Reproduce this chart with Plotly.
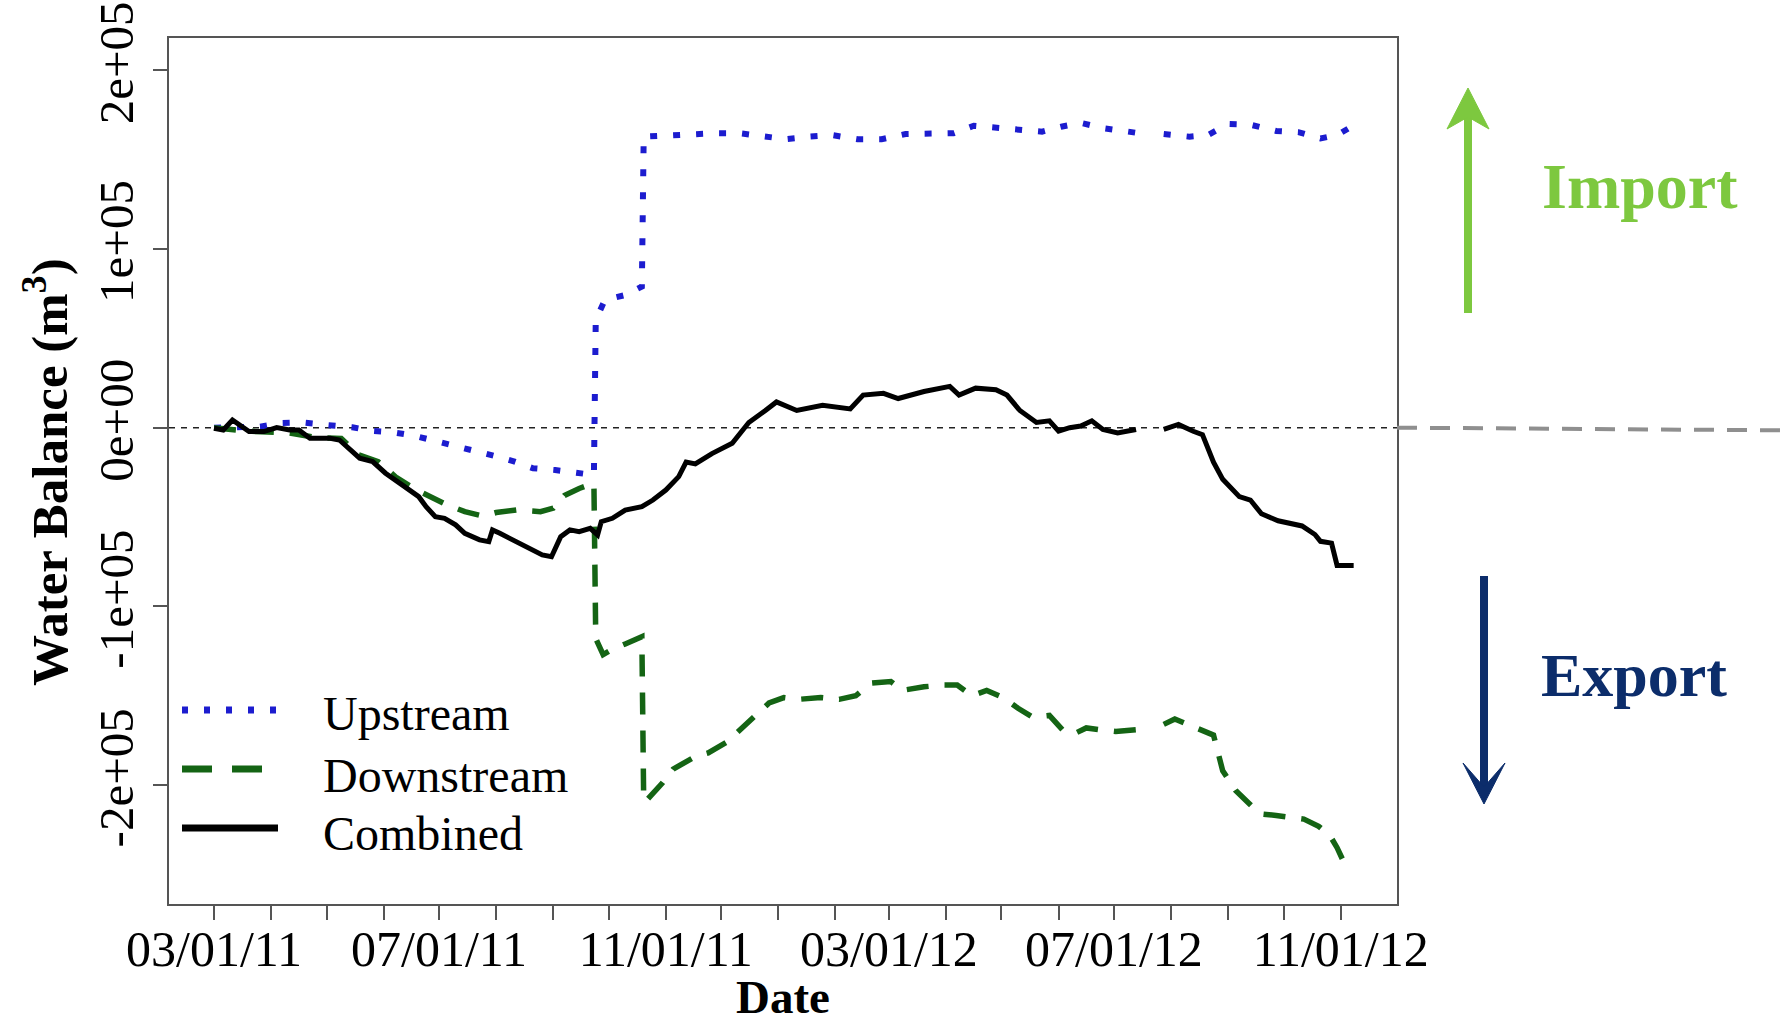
import plotly.graph_objects as go

# ---- data: cumulative water balance (m^3) ----
upstream_dates = [
    "2011-03-01", "2011-03-26", "2011-04-06", "2011-04-18", "2011-05-01", "2011-05-15",
    "2011-05-25", "2011-06-06", "2011-06-18", "2011-06-29", "2011-07-09", "2011-07-20",
    "2011-07-31", "2011-08-11", "2011-08-21", "2011-09-02", "2011-09-13", "2011-09-23",
    "2011-09-24", "2011-09-29", "2011-10-10", "2011-10-19", "2011-10-20", "2011-11-05",
    "2011-11-18", "2011-11-28", "2011-12-11", "2011-12-24", "2012-01-05", "2012-01-18",
    "2012-01-30", "2012-02-13", "2012-02-26", "2012-03-10", "2012-03-23", "2012-04-05",
    "2012-04-16", "2012-04-29", "2012-05-11", "2012-05-23", "2012-06-03", "2012-06-13",
    "2012-06-25", "2012-07-08", "2012-07-13", "2012-07-20", "2012-07-28", "2012-08-11",
    "2012-08-21", "2012-09-01", "2012-09-13", "2012-09-27", "2012-10-09", "2012-10-21",
    "2012-10-30", "2012-11-07",
]
upstream_values = [
    0, 560, 2600, 2900, 1500, 200,
    -1700, -2600, -4600, -7400, -10000, -12500,
    -15800, -19000, -22700, -23700, -25500, -26500,
    60300, 71500, 74200, 78900, 162800, 163700,
    163700, 164700, 164700, 162800, 161400, 162800,
    163700, 161400, 161400, 164300, 164700, 164700,
    168900, 167600, 166600, 165600, 168500, 170500,
    167600, 165300, 165000, None, 164300, 162800,
    163700, 169900, 169500, 166000, 165300, 161800,
    163700, 168500,
]

downstream_dates = [
    "2011-03-01", "2011-03-20", "2011-04-11", "2011-04-26", "2011-05-09", "2011-05-18",
    "2011-05-29", "2011-06-08", "2011-06-19", "2011-07-05", "2011-07-15", "2011-07-25",
    "2011-08-01", "2011-08-12", "2011-08-25", "2011-09-01", "2011-09-07", "2011-09-15",
    "2011-09-23", "2011-09-24", "2011-09-28", "2011-10-03", "2011-10-10", "2011-10-19",
    "2011-10-20", "2011-10-22", "2011-10-30", "2011-11-05", "2011-11-17", "2011-11-24",
    "2011-12-04", "2011-12-12", "2011-12-20", "2011-12-27", "2012-01-04", "2012-01-12",
    "2012-01-24", "2012-02-03", "2012-02-12", "2012-02-20", "2012-03-02", "2012-03-08",
    "2012-03-20", "2012-03-30", "2012-04-07", "2012-04-15", "2012-04-23", "2012-05-02",
    "2012-05-10", "2012-05-18", "2012-05-27", "2012-06-04", "2012-06-10", "2012-06-16",
    "2012-06-23", "2012-07-02", "2012-07-13", "2012-07-20", "2012-07-28", "2012-08-03",
    "2012-08-10", "2012-08-18", "2012-08-24", "2012-08-29", "2012-09-05", "2012-09-12",
    "2012-09-18", "2012-09-27", "2012-10-04", "2012-10-12", "2012-10-20", "2012-10-26",
    "2012-10-30", "2012-11-04", "2012-11-07",
]
downstream_values = [
    0, -2000, -3000, -5700, -6000, -15000,
    -19000, -28000, -35000, -43000, -47000, -49500,
    -47500, -46000, -47000, -45000, -38000, -34000,
    -31000, -118000, -127000, -124000, -121000, -117000,
    -209000, -208000, -199000, -191000, -184000, -182000,
    -176000, -168000, -161000, -154000, -151000, -152000,
    -151000, -152000, -150000, -143000, -142000, -147000,
    -145000, -144000, -144000, -150000, -147000, -151000,
    -157000, -162000, -161000, -170000, -171000, -168000,
    -169000, -170000, -169000, None, -166000, -163000,
    -166000, -169000, -172000, -192000, -203000, -210000,
    -216000, -217000, -218000, -219000, -223000, -228000,
    -235000, -246000, -247000,
]

combined_dates = [
    "2011-03-01", "2011-03-06", "2011-03-11", "2011-03-15", "2011-03-20", "2011-03-28",
    "2011-04-04", "2011-04-11", "2011-04-16", "2011-04-22", "2011-05-03", "2011-05-08",
    "2011-05-14", "2011-05-19", "2011-05-26", "2011-06-02", "2011-06-11", "2011-06-20",
    "2011-06-24", "2011-06-29", "2011-07-04", "2011-07-10", "2011-07-15", "2011-07-23",
    "2011-07-28", "2011-07-30", "2011-08-03", "2011-08-10", "2011-08-17", "2011-08-26",
    "2011-08-31", "2011-09-05", "2011-09-10", "2011-09-15", "2011-09-21", "2011-09-25",
    "2011-09-27", "2011-10-03", "2011-10-10", "2011-10-19", "2011-10-25", "2011-11-01",
    "2011-11-08", "2011-11-12", "2011-11-17", "2011-11-26", "2011-12-07", "2011-12-16",
    "2011-12-25", "2011-12-31", "2012-01-11", "2012-01-25", "2012-02-09", "2012-02-16",
    "2012-02-27", "2012-03-06", "2012-03-20", "2012-04-03", "2012-04-08", "2012-04-17",
    "2012-04-28", "2012-05-04", "2012-05-11", "2012-05-20", "2012-05-27", "2012-06-01",
    "2012-06-07", "2012-06-13", "2012-06-19", "2012-06-25", "2012-07-03", "2012-07-13",
    "2012-07-20", "2012-07-28", "2012-08-05", "2012-08-13", "2012-08-18", "2012-08-24",
    "2012-08-29", "2012-09-07", "2012-09-13", "2012-09-19", "2012-09-28", "2012-10-11",
    "2012-10-18", "2012-10-21", "2012-10-27", "2012-10-30", "2012-11-08",
]
combined_values = [
    -300, -1300, 4300, 1500, -2200, -2200,
    0, -1300, -1300, -5900, -5900, -6900,
    -12500, -17100, -19000, -25500, -32000, -38600,
    -44200, -49800, -50700, -54400, -59100, -62800,
    -63800, -57200, -59100, -62800, -66600, -71200,
    -72200, -61000, -57200, -58200, -56300, -60000,
    -52600, -50700, -46100, -44200, -40500, -34900,
    -27400, -19300, -20300, -14500, -8700, 2900,
    9600, 14400, 9600, 12500, 10500, 18200,
    19200, 16300, 20200, 23100, 18200, 22100,
    21200, 18200, 9600, 2900, 3800, -2000,
    0, 900, 3800, -1000, -3000, -1000,
    None, -1000, 1800, -2000, -3900, -19300,
    -28900, -38600, -40500, -48200, -52100, -55000,
    -59800, -63600, -64600, -77100, -77100,
]

tick_dates = [
    "2011-03-01", "2011-04-01", "2011-05-01", "2011-06-01", "2011-07-01", "2011-08-01",
    "2011-09-01", "2011-10-01", "2011-11-01", "2011-12-01", "2012-01-01", "2012-02-01",
    "2012-03-01", "2012-04-01", "2012-05-01", "2012-06-01", "2012-07-01", "2012-08-01",
    "2012-09-01", "2012-10-01", "2012-11-01",
]
tick_labels = [
    "03/01/11", "", "", "", "07/01/11", "", "", "", "11/01/11", "", "", "",
    "03/01/12", "", "", "", "07/01/12", "", "", "", "11/01/12",
]
y_ticks = [-200000, -100000, 0, 100000, 200000]
y_tick_labels = ["-2e+05", "-1e+05", "0e+00", "1e+05", "2e+05"]

# ---- page geometry (pixels) ----
W, H = 1783, 1029
L, R, T, B = 169, 386, 38, 125
PW, PH = W - L - R, H - T - B


def px(x, y):
    """Convert page pixels to paper coordinates."""
    return (x - L) / PW, (H - B - y) / PH


SERIF = "Liberation Serif"
BLUE = "#1c1ccf"
GREEN = "#146414"
LIGHT_GREEN = "#7dc83f"
NAVY = "#0c2d6b"
FRAME = "#555555"

fig = go.Figure()
fig.add_trace(go.Scatter(x=upstream_dates, y=upstream_values, mode="lines",
                         line=dict(color=BLUE, width=6, dash="7px,16px"),
                         name="Upstream", connectgaps=False))
fig.add_trace(go.Scatter(x=downstream_dates, y=downstream_values, mode="lines",
                         line=dict(color=GREEN, width=5.5, dash="22px,16px"),
                         name="Downstream", connectgaps=False))
fig.add_trace(go.Scatter(x=combined_dates, y=combined_values, mode="lines",
                         line=dict(color="black", width=5),
                         name="Combined", connectgaps=False))

shapes = []
annotations = []

# zero reference line inside the plot
shapes.append(dict(type="line", xref="paper", yref="y", x0=0, x1=1, y0=0, y1=0,
                   line=dict(color="#222222", width=1.5, dash="6px,6px"), layer="below"))
# grey continuation to the right of the frame
x_right, _ = px(W, 0)
shapes.append(dict(type="line", xref="paper", yref="y", x0=1.0, x1=x_right, y0=0, y1=-1500,
                   line=dict(color="#8f8f8f", width=4, dash="20px,13px")))

# hand-drawn legend
legend_rows = [
    ("Upstream", BLUE, "6px,16px", 7, 182, 276, 710, 713),
    ("Downstream", GREEN, "30px,20px", 7, 182, 263, 769, 775),
    ("Combined", "black", None, 7, 182, 278, 828, 833),
]
for label, color, dash, width, x0, x1, yline, ytext in legend_rows:
    a0, b0 = px(x0, yline)
    a1, _ = px(x1, yline)
    ln = dict(color=color, width=width)
    if dash:
        ln["dash"] = dash
    shapes.append(dict(type="line", xref="paper", yref="paper", x0=a0, x1=a1, y0=b0, y1=b0, line=ln))
    tx, ty = px(321, ytext)
    annotations.append(dict(text=label, xref="paper", yref="paper", x=tx, y=ty,
                            xanchor="left", yanchor="middle", showarrow=False,
                            font=dict(family=SERIF, size=48, color="black")))


def arrow(xc, y_tail, y_tip, y_barb, y_notch, half, color, width):
    sx, sy0 = px(xc, y_tail)
    _, sy1 = px(xc, y_notch)
    shapes.append(dict(type="line", xref="paper", yref="paper", x0=sx, x1=sx, y0=sy0, y1=sy1,
                       line=dict(color=color, width=width)))
    pts = [px(xc, y_tip), px(xc - half, y_barb), px(xc, y_notch), px(xc + half, y_barb)]
    path = "M " + " L ".join(f"{a:.5f},{b:.5f}" for a, b in pts) + " Z"
    shapes.append(dict(type="path", xref="paper", yref="paper", path=path,
                       fillcolor=color, line=dict(color=color, width=1)))


arrow(1468, 313, 88, 129, 117, 21, LIGHT_GREEN, 8)
arrow(1484, 576, 804, 763, 787, 21, NAVY, 8)

ix, iy = px(1640, 186)
annotations.append(dict(text="Import", xref="paper", yref="paper", x=ix, y=iy,
                        xanchor="center", yanchor="middle", showarrow=False,
                        font=dict(family=SERIF, size=64, color=LIGHT_GREEN, weight="bold")))
ex, ey = px(1634, 675)
annotations.append(dict(text="Export", xref="paper", yref="paper", x=ex, y=ey,
                        xanchor="center", yanchor="middle", showarrow=False,
                        font=dict(family=SERIF, size=62, color=NAVY, weight="bold")))

# axis titles
yx, yy = px(46, 472)
annotations.append(dict(text="Water Balance (m<sup>3</sup>)", xref="paper", yref="paper",
                        x=yx, y=yy, textangle=-90, xanchor="center", yanchor="middle",
                        showarrow=False,
                        font=dict(family=SERIF, size=51, color="black", weight="bold")))
dx, dy = px(783, 997)
annotations.append(dict(text="Date", xref="paper", yref="paper", x=dx, y=dy,
                        xanchor="center", yanchor="middle", showarrow=False,
                        font=dict(family=SERIF, size=47, color="black", weight="bold")))

fig.update_layout(
    width=W, height=H,
    margin=dict(l=L, r=R, t=T, b=B, autoexpand=False),
    paper_bgcolor="white", plot_bgcolor="white",
    showlegend=False,
    shapes=shapes, annotations=annotations,
    font=dict(family=SERIF, color="black"),
)
fig.update_xaxes(
    type="date", range=["2011-02-04 14:00", "2012-12-01 12:00"],
    tickmode="array", tickvals=tick_dates, ticktext=tick_labels,
    ticks="outside", ticklen=14, tickwidth=2, tickcolor=FRAME,
    showline=True, linecolor=FRAME, linewidth=2, mirror=True,
    showgrid=False, zeroline=False, tickangle=0, ticklabelstandoff=-14,
    tickfont=dict(family=SERIF, size=50, color="black"),
)
fig.update_yaxes(
    range=[-266500, 218000],
    tickmode="array", tickvals=y_ticks, ticktext=y_tick_labels,
    ticks="outside", ticklen=14, tickwidth=2, tickcolor=FRAME,
    showline=True, linecolor=FRAME, linewidth=2, mirror=True,
    showgrid=False, zeroline=False, tickangle=-90,
    tickfont=dict(family=SERIF, size=49, color="black"),
)

fig.write_html("out.html")
